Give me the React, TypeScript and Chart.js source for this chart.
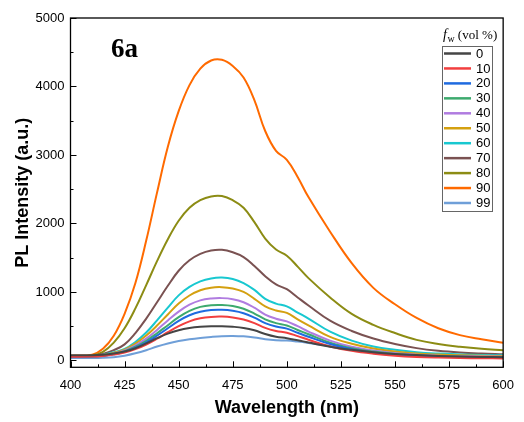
import { useEffect, useRef } from 'react';
import { Chart, registerables } from 'chart.js';

Chart.register(...registerables);

// Wavelength (nm)
const wavelengths = [400, 410, 415, 420, 425, 430, 435, 440, 445, 450, 455, 460, 465, 470, 475, 480, 485, 490, 495, 500, 505, 510, 520, 530, 540, 550, 560, 570, 580, 590, 600];

// f_w (vol %) legend labels
const fwLabels = ['0', '10', '20', '30', '40', '50', '60', '70', '80', '90', '99'];

// PL intensity (a.u.) for each water fraction
const fw0 = [75, 75, 82, 100, 130, 178, 250, 325, 392, 442, 474, 492, 500, 500, 492, 475, 440, 385, 345, 325, 295, 262, 200, 155, 120, 95, 78, 66, 58, 52, 48];
const fw10 = [55, 57, 66, 85, 115, 165, 233, 318, 412, 500, 570, 615, 636, 640, 628, 598, 545, 475, 430, 405, 355, 302, 205, 140, 98, 70, 52, 42, 36, 32, 30];
const fw20 = [55, 57, 68, 90, 125, 185, 263, 362, 470, 578, 660, 712, 737, 740, 725, 690, 625, 545, 495, 465, 405, 347, 240, 165, 115, 85, 65, 55, 48, 44, 42];
const fw30 = [55, 58, 70, 95, 135, 200, 288, 397, 515, 632, 724, 782, 807, 810, 795, 755, 685, 600, 545, 510, 445, 382, 260, 180, 130, 95, 75, 62, 55, 50, 48];
const fw40 = [60, 60, 73, 100, 145, 220, 318, 446, 584, 713, 814, 877, 904, 910, 895, 850, 770, 670, 610, 570, 500, 422, 290, 200, 145, 105, 85, 70, 62, 58, 55];
const fw50 = [60, 62, 78, 110, 157, 245, 363, 510, 672, 830, 948, 1025, 1063, 1070, 1050, 1000, 900, 790, 730, 695, 600, 512, 345, 245, 175, 130, 102, 86, 75, 68, 65];
const fw60 = [60, 62, 82, 120, 168, 270, 408, 585, 772, 950, 1073, 1155, 1198, 1210, 1190, 1130, 1030, 900, 830, 790, 700, 612, 420, 290, 205, 155, 120, 100, 88, 80, 75];
const fw70 = [60, 65, 95, 150, 235, 400, 610, 850, 1090, 1310, 1462, 1555, 1605, 1615, 1580, 1510, 1380, 1230, 1110, 1040, 920, 802, 580, 430, 320, 240, 180, 140, 115, 100, 90];
const fw80 = [65, 72, 125, 260, 470, 760, 1100, 1450, 1770, 2040, 2230, 2340, 2395, 2400, 2340, 2230, 2020, 1780, 1620, 1530, 1370, 1202, 920, 680, 520, 400, 300, 240, 200, 170, 150];
const fw90 = [70, 85, 170, 360, 680, 1130, 1750, 2450, 3120, 3640, 4020, 4260, 4380, 4390, 4300, 4130, 3800, 3350, 3060, 2930, 2680, 2385, 1880, 1420, 1060, 820, 620, 470, 370, 310, 260];
const fw99 = [35, 35, 38, 48, 70, 105, 150, 203, 248, 283, 309, 329, 344, 355, 358, 352, 335, 310, 295, 290, 275, 255, 210, 170, 138, 112, 92, 78, 68, 60, 55];

const seriesColors = ['#454545', '#F23F3F', '#1F6BE0', '#3DAA6E', '#B07CE0', '#D4A010', '#18C8D0', '#7A5252', '#8C8C14', '#FF6A00', '#6F9FD8'];

// Axis ticks
const xMajorTicks = [400, 425, 450, 475, 500, 525, 550, 575, 600];
const yMajorTicks = [0, 1000, 2000, 3000, 4000, 5000];

export default function App() {
  const ref = useRef<HTMLCanvasElement>(null);

  useEffect(() => {
    if (!ref.current) return;
    const series = [fw0, fw10, fw20, fw30, fw40, fw50, fw60, fw70, fw80, fw90, fw99];
    const datasets = series.map((s, i) => ({
      label: fwLabels[i],
      data: wavelengths.map((x, j) => ({ x, y: s[j] })),
      borderColor: seriesColors[i],
      backgroundColor: seriesColors[i],
      borderWidth: 2,
      pointRadius: 0,
      tension: 0.4,
      fill: false,
    }));

    const framePlugin = {
      id: 'frameAndLegend',
      afterDraw(chart: any) {
        const { ctx, chartArea: a, scales } = chart;
        const xs = scales.x;
        const ys = scales.y;
        ctx.save();
        ctx.strokeStyle = '#000';
        ctx.lineWidth = 1.3;
        ctx.strokeRect(a.left, a.top, a.right - a.left, a.bottom - a.top);
        ctx.lineWidth = 1;
        // x ticks (inward)
        for (let k = 0; k < xMajorTicks.length; k++) {
          const v = xMajorTicks[k];
          const px = Math.round(xs.getPixelForValue(v)) + 0.5;
          ctx.beginPath();
          ctx.moveTo(px, a.bottom);
          ctx.lineTo(px, a.bottom - 6);
          ctx.stroke();
          if (k < xMajorTicks.length - 1) {
            const pm = Math.round(xs.getPixelForValue((v + xMajorTicks[k + 1]) / 2)) + 0.5;
            ctx.beginPath();
            ctx.moveTo(pm, a.bottom);
            ctx.lineTo(pm, a.bottom - 3);
            ctx.stroke();
          }
        }
        // y ticks (inward)
        for (let k = 0; k < yMajorTicks.length; k++) {
          const v = yMajorTicks[k];
          const py = Math.round(ys.getPixelForValue(v)) + 0.5;
          ctx.beginPath();
          ctx.moveTo(a.left, py);
          ctx.lineTo(a.left + 6, py);
          ctx.stroke();
          if (k < yMajorTicks.length - 1) {
            const pm = Math.round(ys.getPixelForValue((v + yMajorTicks[k + 1]) / 2)) + 0.5;
            ctx.beginPath();
            ctx.moveTo(a.left, pm);
            ctx.lineTo(a.left + 3, pm);
            ctx.stroke();
          }
        }

        // Panel label
        ctx.fillStyle = '#000';
        ctx.font = 'bold 27px "Liberation Serif"';
        ctx.textBaseline = 'alphabetic';
        ctx.textAlign = 'left';
        ctx.fillText('6a', 111, 57);

        // Legend title
        let tx = 443;
        ctx.font = 'italic 14px "Liberation Serif"';
        ctx.fillText('f', tx, 39);
        tx += ctx.measureText('f').width + 0.5;
        ctx.font = '10px "Liberation Serif"';
        ctx.fillText('w', tx, 42);
        tx += ctx.measureText('w').width;
        ctx.font = '13px "Liberation Serif"';
        ctx.fillText(' (vol %)', tx, 39);

        // Legend box
        ctx.strokeStyle = '#666';
        ctx.lineWidth = 1;
        ctx.strokeRect(442.5, 46.5, 50, 165);
        ctx.font = '13px "Liberation Sans"';
        ctx.textBaseline = 'middle';
        chart.data.datasets.forEach((ds: any, i: number) => {
          const y = 53.5 + i * 14.95;
          ctx.strokeStyle = ds.borderColor;
          ctx.lineWidth = 2.5;
          ctx.beginPath();
          ctx.moveTo(444, y);
          ctx.lineTo(471, y);
          ctx.stroke();
          ctx.fillStyle = '#000';
          ctx.fillText(ds.label, 476, y + 0.5);
        });
        ctx.restore();
      },
    };

    const chart = new Chart(ref.current, {
      type: 'line',
      data: { datasets },
      plugins: [framePlugin],
      options: {
        animation: false,
        responsive: false,
        devicePixelRatio: 1,
        layout: { padding: { left: 0, right: 20, top: 18, bottom: 0 } },
        plugins: {
          legend: { display: false },
          tooltip: { enabled: false },
        },
        scales: {
          x: {
            type: 'linear',
            min: 400,
            max: 600,
            afterBuildTicks: (scale: any) => {
              scale.ticks = xMajorTicks.map((v) => ({ value: v }));
            },
            afterFit: (scale: any) => {
              scale.height = 54.7;
            },
            grid: { display: false, drawTicks: false },
            border: { display: false },
            ticks: {
              padding: 10,
              color: '#000',
              font: { family: '"Liberation Sans"', size: 13 },
              maxRotation: 0,
            },
            title: {
              display: true,
              text: 'Wavelength (nm)',
              color: '#000',
              font: { family: '"Liberation Sans"', size: 18, weight: 'bold' },
              padding: { top: 0, bottom: 3 },
            },
          },
          y: {
            type: 'linear',
            min: -100,
            max: 5000,
            afterBuildTicks: (scale: any) => {
              scale.ticks = yMajorTicks.map((v) => ({ value: v }));
            },
            afterFit: (scale: any) => {
              scale.width = 70.5;
            },
            grid: { display: false, drawTicks: false },
            border: { display: false },
            ticks: {
              padding: 6,
              color: '#000',
              font: { family: '"Liberation Sans"', size: 13 },
              callback: (v: any) => String(v),
            },
            title: {
              display: true,
              text: 'PL Intensity (a.u.)',
              color: '#000',
              font: { family: '"Liberation Sans"', size: 18, weight: 'bold' },
              padding: { top: 12, bottom: 0 },
            },
          },
        },
      },
    });
    return () => chart.destroy();
  }, []);

  return (
    <div style={{ position: 'absolute', left: 0, top: 0, width: 524, height: 422, background: '#fff' }}>
      <canvas ref={ref} width={524} height={422} style={{ width: 524, height: 422, display: 'block' }} />
    </div>
  );
}
